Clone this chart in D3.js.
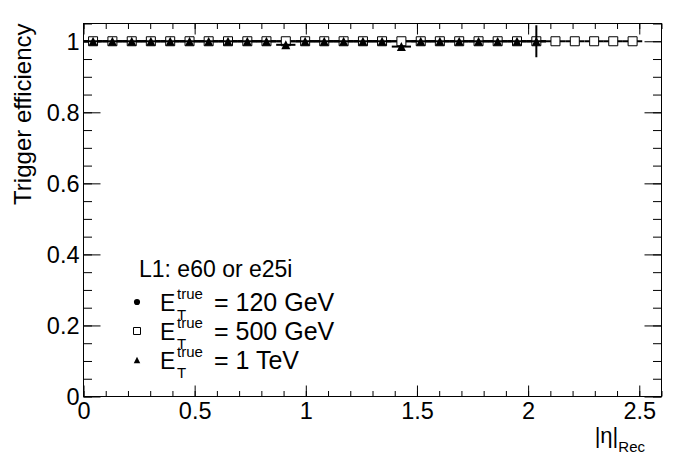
<!DOCTYPE html>
<html><head><meta charset="utf-8">
<script src="https://cdn.jsdelivr.net/npm/d3@7"></script>
<style>
html,body{margin:0;padding:0;background:#fff;}
svg{display:block;font-family:"Liberation Sans",Arial,Helvetica,sans-serif;}
</style></head>
<body>
<svg id="c" width="696" height="472"></svg>
<script>
// ---- data ----
const etaCenters = [0.043,0.130,0.217,0.303,0.390,0.477,0.563,0.650,0.737,0.823,0.910,0.997,1.083,1.170,1.257,1.343,1.430,1.517,1.603,1.690,1.777,1.863,1.950,2.037,2.123,2.210,2.297,2.383,2.470];
const binHalfWidth = 0.0433;
const eff120  = [1,1,1,1,1,1,1,1,1,1,1,1,1,1,1,1,1,1,1,1,1,1,1,1];
const eff500  = [1,1,1,1,1,1,1,1,1,1,1,1,1,1,1,1,1,1,1,1,1,1,1,1,1,1,1,1,1];
const eff1TeV = [1,1,1,1,1,1,1,1,1,1,0.99,1,1,1,1,1,0.985,1,1,1,1,1,1,1];
const err1TeV = [0,0,0,0,0,0,0,0,0,0,0,0,0,0,0,0,0,0,0,0,0,0,0,0.045];
const xTickLabels = ["0","0.5","1","1.5","2","2.5"];
const yTickLabels = ["0","0.2","0.4","0.6","0.8","1"];
const legendTitle = "L1: e60 or e25i";
const legendValues = ["= 120 GeV","= 500 GeV","= 1 TeV"];

// ---- layout ----
const svg = d3.select("#c");
const L = 83.5, R = 661.5, T = 23.5, B = 396.5;
const x = d3.scaleLinear().domain([0, 2.6]).range([L, R]);
const y = d3.scaleLinear().domain([0, 1.05]).range([B, T]);

const g = svg.append("g");
g.append("rect").attr("x", L).attr("y", T).attr("width", R - L).attr("height", B - T)
  .attr("fill", "none").attr("stroke", "#000").attr("stroke-width", 1);

const xMajor = d3.range(0, 2.6001, 0.5);
const xMinor = d3.range(0, 2.6001, 0.1);
const yMajor = d3.range(0, 1.0001, 0.2);
const yMinor = d3.range(0, 1.0501, 0.05);

function axisLines(axisGen, sel){ sel.call(axisGen); sel.select(".domain").remove(); sel.selectAll("text").remove(); sel.selectAll("line").attr("stroke","#000").attr("stroke-width",1); }

axisLines(d3.axisTop(x).tickValues(xMinor).tickSize(5.5), g.append("g").attr("transform", `translate(0,${B})`));
axisLines(d3.axisTop(x).tickValues(xMajor).tickSize(11), g.append("g").attr("transform", `translate(0,${B})`));
axisLines(d3.axisBottom(x).tickValues(xMinor).tickSize(5.5), g.append("g").attr("transform", `translate(0,${T})`));
axisLines(d3.axisBottom(x).tickValues(xMajor).tickSize(11), g.append("g").attr("transform", `translate(0,${T})`));
axisLines(d3.axisRight(y).tickValues(yMinor).tickSize(8.5), g.append("g").attr("transform", `translate(${L},0)`));
axisLines(d3.axisRight(y).tickValues(yMajor).tickSize(17), g.append("g").attr("transform", `translate(${L},0)`));
axisLines(d3.axisLeft(y).tickValues(yMinor).tickSize(8.5), g.append("g").attr("transform", `translate(${R},0)`));
axisLines(d3.axisLeft(y).tickValues(yMajor).tickSize(17), g.append("g").attr("transform", `translate(${R},0)`));

// tick labels
const xl = d3.axisBottom(x).tickValues(xMajor).tickFormat((d,i)=>xTickLabels[i]).tickSize(0).tickPadding(0);
const xg = g.append("g").attr("transform", `translate(0,${B})`).call(xl);
xg.select(".domain").remove();
xg.selectAll("text").attr("font-size", 23.5).attr("font-family", "Liberation Sans, Arial, sans-serif").attr("fill","#000").attr("dy", null).attr("y", 22);

const yl = d3.axisLeft(y).tickValues(yMajor).tickFormat((d,i)=>yTickLabels[i]).tickSize(0).tickPadding(4);
const yg = g.append("g").attr("transform", `translate(${L},0)`).call(yl);
yg.select(".domain").remove();
yg.selectAll("text").attr("font-size", 23.5).attr("font-family", "Liberation Sans, Arial, sans-serif").attr("fill","#000").attr("dy", "0.36em");

// axis titles
svg.append("text").attr("transform", `translate(31,${T}) rotate(-90)`).attr("text-anchor","end")
  .attr("font-size", 24).text("Trigger efficiency");
const xt = svg.append("text").attr("x", 645).attr("y", 443).attr("text-anchor","end").attr("font-size", 22);
xt.append("tspan").text("|η|");
xt.append("tspan").attr("font-size", 15).attr("dy", 9).text("Rec");

// ---- markers ----
const triangleType = { draw(ctx, size){ const h = Math.sqrt(size)/2; ctx.moveTo(0, -h); ctx.lineTo(h, h); ctx.lineTo(-h, h); ctx.closePath(); } };
const plot = svg.append("g");
function drawSeries(vals, errs, kind){
  const d = vals.map((v,i)=>({x: etaCenters[i], v, e: errs ? errs[i] : 0}));
  plot.selectAll(null).data(d).enter().append("line")
    .attr("x1", p=>x(p.x - binHalfWidth)).attr("x2", p=>x(p.x + binHalfWidth))
    .attr("y1", p=>y(p.v)).attr("y2", p=>y(p.v)).attr("stroke","#000").attr("stroke-width",2);
  plot.selectAll(null).data(d.filter(p=>p.e>0)).enter().append("line")
    .attr("x1", p=>x(p.x)).attr("x2", p=>x(p.x))
    .attr("y1", p=>y(p.v - p.e)).attr("y2", p=>y(p.v + p.e)).attr("stroke","#000").attr("stroke-width",2);
  const sym = {circle: d3.symbolCircle, square: d3.symbolSquare, triangle: triangleType}[kind];
  const size = {circle: 50, square: 81, triangle: 81}[kind];
  plot.selectAll(null).data(d).enter().append("path")
    .attr("d", d3.symbol(sym, size))
    .attr("transform", p=>`translate(${x(p.x)},${y(p.v)})`)
    .attr("fill", kind==="square" ? "#fff" : "#000")
    .attr("stroke", "#000").attr("stroke-width", kind==="square"?1:0);
}
drawSeries(eff120, null, "circle");
drawSeries(eff500, null, "square");
drawSeries(eff1TeV, err1TeV, "triangle");

// ---- legend ----
const lg = svg.append("g");
lg.append("text").attr("x", 139).attr("y", 277).attr("font-size", 23).text(legendTitle);
const kinds = ["circle","square","triangle"];
const rowsY = [311, 340, 369];
kinds.forEach((k,i)=>{
  const by = rowsY[i];
  const my = by - 9;
  const sym = {circle: d3.symbolCircle, square: d3.symbolSquare, triangle: triangleType}[k];
  const size = {circle: 30, square: 49, triangle: 42}[k];
  lg.append("path").attr("d", d3.symbol(sym, size)).attr("transform", `translate(137,${my})`)
    .attr("fill", k==="square"?"#fff":"#000").attr("stroke","#000").attr("stroke-width", k==="square"?1:0);
  lg.append("text").attr("x", 160).attr("y", by).attr("font-size", 23).text("E");
  lg.append("text").attr("x", 177).attr("y", by - 12).attr("font-size", 15).text("true");
  lg.append("text").attr("x", 177).attr("y", by + 9).attr("font-size", 15).text("T");
  lg.append("text").attr("x", 214).attr("y", by).attr("font-size", 25).text(legendValues[i]);
});
</script>
</body></html>
